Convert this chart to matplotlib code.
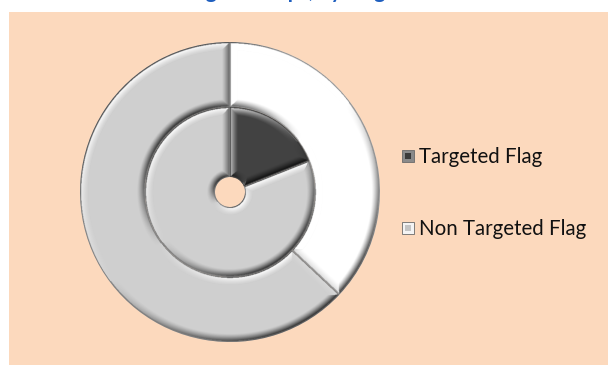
import matplotlib
matplotlib.use("Agg")
import matplotlib.pyplot as plt
import numpy as np
from matplotlib.patches import Rectangle

# flag split for the two rings (percent)
outer_labels = ["Non Targeted Flag", "Targeted Flag"]
outer_values = [37, 63]
inner_labels = ["Targeted Flag", "Non Targeted Flag"]
inner_values = [19, 81]

legend_labels = ["Targeted Flag", "Non Targeted Flag"]

title = "Target Groups, by Flag"

BG = "#fcd9bd"
W, H = 608, 365

fig = plt.figure(figsize=(W / 100, H / 100), dpi=100)
fig.patch.set_facecolor("white")

# peach panel
panel = fig.add_axes([9 / W, 0, 1 - 9 / W, 1 - 12 / H])
panel.set_facecolor(BG)
panel.set_xticks([])
panel.set_yticks([])
for s in panel.spines.values():
    s.set_visible(False)

# title runs off the top edge, only the descenders show
fig.text(280 / W, 1 + 1.5 / H, title, ha="center", va="baseline",
         fontsize=15, fontweight="bold", color="#1f5fbf", family="Lato")

cx, cy, R = 230, 192, 150
ax = fig.add_axes([(cx - R) / W, (H - cy - R) / H, 2 * R / W, 2 * R / H])
ax.set_facecolor("none")

# grid for the bevel overlay
N = 700
g = np.linspace(-1.0, 1.0, N)
X, Y = np.meshgrid(g, g[::-1])
RHO = np.hypot(X, Y)
PHI = np.degrees(np.arctan2(Y, X))
LIGHT = np.array([-0.6, 0.8])
BEVEL = 0.055


def bevel(w):
    """Shade a wedge like an embossed tile: lit up-left, dark down-right."""
    r_out, r_in = w.r, w.r - w.width
    t1, t2 = w.theta1, w.theta2
    span = t2 - t1
    rel = (PHI - t1) % 360.0
    rr = np.maximum(RHO, 1e-9)

    d = [r_out - RHO, RHO - r_in]
    nx = [X / rr, -X / rr]
    ny = [Y / rr, -Y / rr]
    if span < 359.9:
        d1 = np.where(rel < 90, RHO * np.sin(np.radians(np.minimum(rel, 90))), 9)
        d2 = np.where(span - rel < 90,
                      RHO * np.sin(np.radians(np.clip(span - rel, 0, 90))), 9)
        a1, a2 = np.radians(t1 - 90), np.radians(t2 + 90)
        d += [d1, d2]
        nx += [np.full_like(X, np.cos(a1)), np.full_like(X, np.cos(a2))]
        ny += [np.full_like(X, np.sin(a1)), np.full_like(X, np.sin(a2))]
    D = np.stack(d)
    k = np.argmin(D, axis=0)
    dmin = np.take_along_axis(D, k[None], 0)[0]
    NX = np.take_along_axis(np.stack(nx), k[None], 0)[0]
    NY = np.take_along_axis(np.stack(ny), k[None], 0)[0]

    prof = np.clip(1 - dmin / BEVEL, 0, 1) ** 1.3
    shade = (NX * LIGHT[0] + NY * LIGHT[1]) * prof

    rgba = np.zeros((N, N, 4))
    lit = shade > 0
    rgba[lit, :3] = 1.0
    rgba[lit, 3] = np.clip(shade[lit] * 1.2, 0, 0.95)
    rgba[~lit, 3] = np.clip(-shade[~lit] * 0.95, 0, 0.85)
    # thin dark rim right at the boundary
    rim = dmin < 0.007
    rgba[rim, :3] = 0.3
    rgba[rim, 3] = np.maximum(rgba[rim, 3], 0.6)

    im = ax.imshow(rgba, extent=(-1, 1, -1, 1), zorder=3, interpolation="bilinear")
    im.set_clip_path(w)


def ring(values, colors, radius, width):
    wedges, _ = ax.pie(values, radius=radius, startangle=90, counterclock=False,
                       colors=colors,
                       wedgeprops=dict(width=width, linewidth=0))
    for w in wedges:
        bevel(w)


ring(outer_values, ["#ffffff", "#cfcfcf"], 1.0, 0.433)
ring(inner_values, ["#424242", "#cfcfcf"], 0.567, 0.467)
ax.set_xlim(-1.0, 1.0)
ax.set_ylim(-1.0, 1.0)
ax.set_aspect("equal")
ax.axis("off")

# legend with small bevelled swatches
swatches = [("#8a8a8a", "#3a3a3a"), ("#f4f4f4", "#c4c4c4")]
ys = [156, 228]
for lab, (rim_c, face_c), y in zip(legend_labels, swatches, ys):
    fig.add_artist(Rectangle((402 / W, (H - y - 6) / H), 12 / W, 12 / H,
                             transform=fig.transFigure, facecolor=rim_c,
                             edgecolor="#6a6a6a", linewidth=0.6))
    fig.add_artist(Rectangle((405 / W, (H - y - 3) / H), 6 / W, 6 / H,
                             transform=fig.transFigure, facecolor=face_c,
                             linewidth=0))
    fig.text(419 / W, (H - y - 1) / H, lab, ha="left", va="center",
             fontsize=14.8, color="#111111", family="Lato")

fig.savefig("out.png", dpi=100, facecolor=fig.get_facecolor())
